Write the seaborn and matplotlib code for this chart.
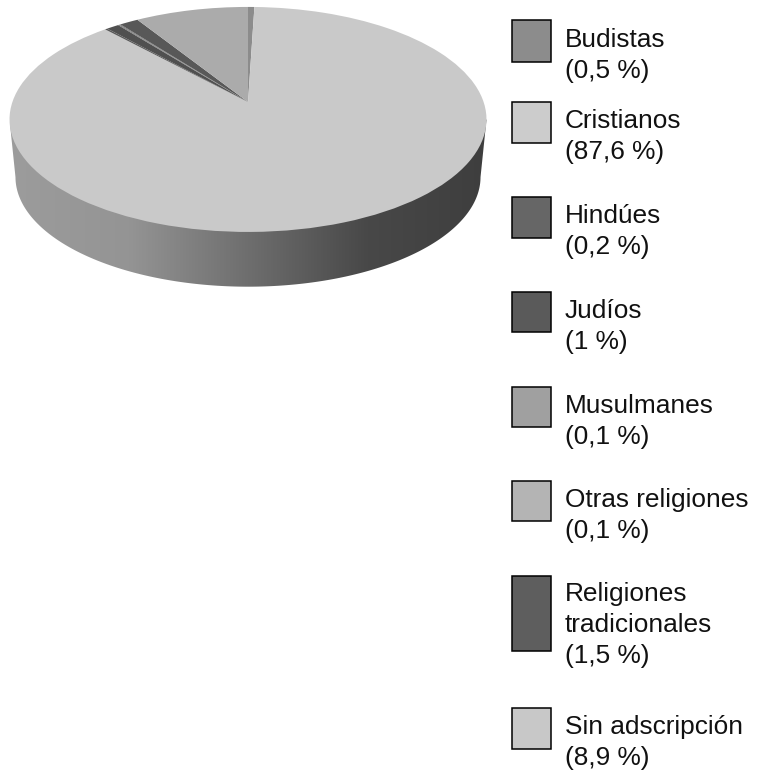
import numpy as np
import matplotlib.pyplot as plt
from matplotlib.patches import Polygon, Rectangle
from matplotlib.transforms import Transform
import seaborn as sns

categories = ['Budistas', 'Cristianos', 'Hindúes', 'Judíos', 'Musulmanes',
              'Otras religiones', 'Religiones\ntradicionales', 'Sin adscripción']
shares = [0.5, 87.6, 0.2, 1, 0.1, 0.1, 1.5, 8.9]
share_labels = ['0,5', '87,6', '0,2', '1', '0,1', '0,1', '1,5', '8,9']
pie_colors = ['#8c8c8c', '#c9c9c9', '#5a5a5a', '#505050', '#767676',
              '#767676', '#585858', '#ababab']
swatch_colors = ['#8c8c8c', '#cccccc', '#666666', '#5a5a5a', '#a0a0a0',
                 '#b4b4b4', '#5e5e5e', '#c8c8c8']
# legend layout in pixels: box top, box bottom, baseline of the last text line
swatch_tops = [20, 102, 197, 292, 387, 481, 576, 708]
swatch_bottoms = [62, 143, 238, 332, 427, 521, 651, 749]
text_baselines = [78, 159, 254, 349, 444, 538, 663, 765]

sns.set_theme(style='white')
plt.rcParams['font.family'] = ['Liberation Sans', 'DejaVu Sans']


class Tilt(Transform):
    # unit circle seen in perspective, gives pixel coordinates
    input_dims = 2
    output_dims = 2

    def __init__(self, cy=102, sx=235.6, sy=109.8, k=0.155):
        super().__init__()
        self.cy, self.sx, self.sy, self.k = cy, sx, sy, k

    def transform_non_affine(self, values):
        w = 1 + self.k * values[:, 1]
        return np.c_[248 + self.sx * values[:, 0] / w, self.cy - self.sy * values[:, 1] / w]


fig, ax = plt.subplots(figsize=(7.57, 7.72), dpi=100)
fig.subplots_adjust(0, 0, 1, 1)

wedges, _ = ax.pie(shares, colors=pie_colors, startangle=90, counterclock=False,
                   wedgeprops={'linewidth': 0})
ax.set_aspect('auto')

top_rim = Tilt()
for w in wedges:
    w.set_transform(top_rim + ax.transData)
    w.set_zorder(3)

# side wall of the disc, shaded left to right
t = np.linspace(0, 2 * np.pi, 721)
circle = np.c_[np.cos(t), np.sin(t)]
top_xy = top_rim.transform_non_affine(circle)
low_xy = Tilt(cy=160, sx=235.6 * 0.975, sy=109.8 * 0.975).transform_non_affine(circle)
left = top_xy[top_xy[:, 0].argmin()]
right = top_xy[top_xy[:, 0].argmax()]
a, b = low_xy[:, 0].argmin(), low_xy[:, 0].argmax()
wall = Polygon(np.vstack([left, low_xy[a:b + 1], right]), closed=True,
               facecolor='none', edgecolor='none', transform=ax.transData)
ax.add_patch(wall)
wall_cmap = sns.blend_palette(['#9c9c9c', '#949494', '#6e6e6e', '#484848', '#3e3e3e'], as_cmap=True)
shade = ax.imshow(np.linspace(0, 1, 256)[None, :], cmap=wall_cmap, aspect='auto',
                  extent=(10, 487, 290, 100), zorder=2)
shade.set_clip_path(wall)
ax.set_xlim(0, 757)
ax.set_ylim(772, 0)

for i, name in enumerate(categories):
    y0, y1 = swatch_tops[i], swatch_bottoms[i]
    ax.add_patch(Rectangle((512, y0), 39, y1 - y0, facecolor=swatch_colors[i],
                           edgecolor='black', linewidth=1.1, zorder=4))
    ax.text(565, text_baselines[i], f'{name}\n({share_labels[i]} %)', fontsize=18.95,
            color='#111111', va='baseline', ha='left', linespacing=1.36)

ax.set_axis_off()
fig.savefig('out.png', dpi=100)
